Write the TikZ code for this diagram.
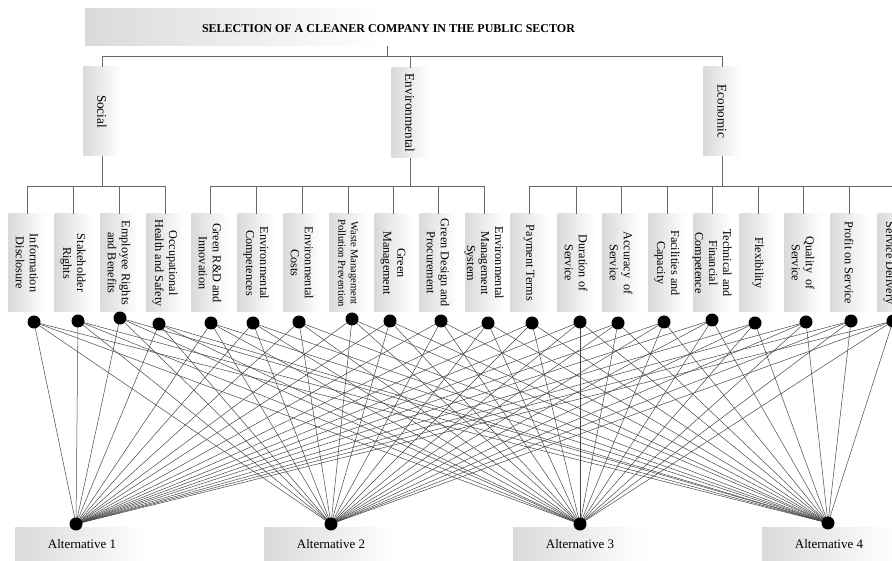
\documentclass[tikz,border=0pt]{standalone}
\usepackage{fontspec}
\setmainfont{Liberation Serif}
\definecolor{treeg}{RGB}{105,105,105}
\definecolor{shadeg}{RGB}{218,218,218}
\begin{document}
\begin{tikzpicture}[x=1pt,y=-1pt,
  tree/.style={draw=treeg, line width=0.9pt},
  link/.style={draw=black!72, line width=0.5pt},
  dotnode/.style={circle, fill=black, minimum size=13pt, inner sep=0pt},
  gradbox/.style={left color=shadeg, middle color=white, right color=white, draw=none, inner sep=0pt},
  critbox/.style={gradbox, minimum width=37pt, minimum height=98pt},
  catbox/.style={gradbox, minimum width=37pt, minimum height=89pt},
  altbox/.style={gradbox, minimum width=134pt, minimum height=34pt},
  crittext/.style={rotate=-90, align=center, inner sep=0pt, font=\fontsize{12.2}{14}\selectfont},
  smalltext/.style={rotate=-90, align=center, inner sep=0pt, font=\fontsize{10.6}{12.5}\selectfont},
  cattext/.style={rotate=-90, inner sep=0pt, font=\fontsize{13.2}{15}\selectfont},
  alttext/.style={inner sep=0pt, font=\fontsize{13}{15}\selectfont}
]
\useasboundingbox (0,0) rectangle (892,561);

% title
\node[left color=shadeg, middle color=shadeg!75!white, right color=white, draw=none, minimum width=300pt, minimum height=37pt, inner sep=0pt] (titlebox) at (235,27.5) {};
\node[inner sep=0pt, font=\bfseries\fontsize{12}{14}\selectfont] (title) at (388.5,29) {SELECTION OF A CLEANER COMPANY IN THE PUBLIC SECTOR};
\coordinate (tj) at (387,56);
\coordinate (tt) at (387,46);
\coordinate (topbar) at (0,56);
\coordinate (subbar) at (0,186);

% categories
\node[catbox] (catS) at (102,111.5) {};
\node[cattext] (catSt) at (catS) {Social};
\node[catbox, minimum height=90pt] (catV) at (410,113) {};
\node[cattext] (catVt) at (catV) {Environmental};
\node[catbox] (catC) at (722,111.5) {};
\node[cattext] (catCt) at (catC) {Economic};

% criteria boxes
\foreach \i/\x in {1/27,2/73,3/119,4/165,5/210,6/256,7/302,8/348,9/393,10/438,11/484,12/529,13/576,14/621,15/667,16/712,17/758,18/803,19/849,20/896}{
  \node[critbox] (b\i) at (\x,263) {};
}
\node[crittext] (t1) at (b1) {Information\\Disclosure};
\node[crittext] (t2) at (b2) {Stakeholder\\Rights};
\node[crittext] (t3) at (b3) {Employee Rights\\and Benefits};
\node[crittext] (t4) at (b4) {Occupational\\Health and Safety};
\node[crittext] (t5) at (b5) {Green R\&D and\\Innovation};
\node[crittext] (t6) at (b6) {Environmental\\Competences};
\node[crittext] (t7) at (b7) {Environmental\\Costs};
\node[smalltext] (t8) at (b8) {Waste Management\\Pollution Prevention};
\node[crittext] (t9) at (b9) {Green\\Management};
\node[crittext] (t10) at (b10) {Green Design and\\Procurement};
\node[crittext] (t11) at (b11) {Environmental\\Management\\System};
\node[crittext] (t12) at (b12) {Payment Terms};
\node[crittext] (t13) at (b13) {Duration of\\Service};
\node[crittext] (t14) at (b14) {Accuracy~~of\\Service};
\node[crittext] (t15) at (b15) {Facilities and\\Capacity};
\node[crittext] (t16) at (b16) {Technical and\\Financial\\Competence};
\node[crittext] (t17) at (b17) {Flexibility};
\node[crittext] (t18) at (b18) {Quality~~of\\Service};
\node[crittext] (t19) at (b19) {Profit on Service};
\node[crittext] (t20) at (b20) {Continuity of\\Service Delivery};

% tree connectors
\draw[tree] (tt) -- (tj);
\draw[tree] (catS.north) -- (catS.north |- topbar) -- (catC.north |- topbar) -- (catC.north);
\draw[tree] (catV.north |- topbar) -- (catV.north);
\draw[tree] (catS.south) -- (catS.south |- subbar);
\draw[tree] (catV.south) -- (catV.south |- subbar);
\draw[tree] (catC.south) -- (catC.south |- subbar);
\draw[tree] (b1.north |- subbar) -- (b4.north |- subbar);
\draw[tree] (b5.north |- subbar) -- (b11.north |- subbar);
\draw[tree] (b12.north |- subbar) -- (b20.north |- subbar);
\foreach \i in {1,...,20}{
  \draw[tree] (b\i.north |- subbar) -- (b\i.north);
}

% alternatives
\node[altbox] (a1) at (82,544) {};
\node[alttext] (a1t) at (a1) {Alternative 1};
\node[altbox] (a2) at (331,544) {};
\node[alttext] (a2t) at (a2) {Alternative 2};
\node[altbox] (a3) at (580,544) {};
\node[alttext] (a3t) at (a3) {Alternative 3};
\node[altbox] (a4) at (829,544) {};
\node[alttext] (a4t) at (a4) {Alternative 4};

% dot coordinates
\foreach \i/\x/\y in {1/34/322,2/78/321,3/120/318,4/159/324,5/211/323,6/253/323,7/299/322,8/352/319,9/390/321,10/441/321,11/488/323,12/532/323,13/580/322,14/618/323,15/664/322,16/712/320,17/755/323,18/806/322,19/851/321,20/893/321}{
  \coordinate (d\i) at (\x,\y);
}
\coordinate (p1) at (76,524);
\coordinate (p2) at (331,524);
\coordinate (p3) at (580,524);
\coordinate (p4) at (828,523);

% links
\foreach \i in {1,...,20}{
  \foreach \j in {1,...,4}{
    \draw[link] (d\i) -- (p\j);
  }
}
% dots
\foreach \i in {1,...,20}{
  \node[dotnode] (dn\i) at (d\i) {};
}
\foreach \j in {1,...,4}{
  \node[dotnode] (pn\j) at (p\j) {};
}
\end{tikzpicture}
\end{document}
